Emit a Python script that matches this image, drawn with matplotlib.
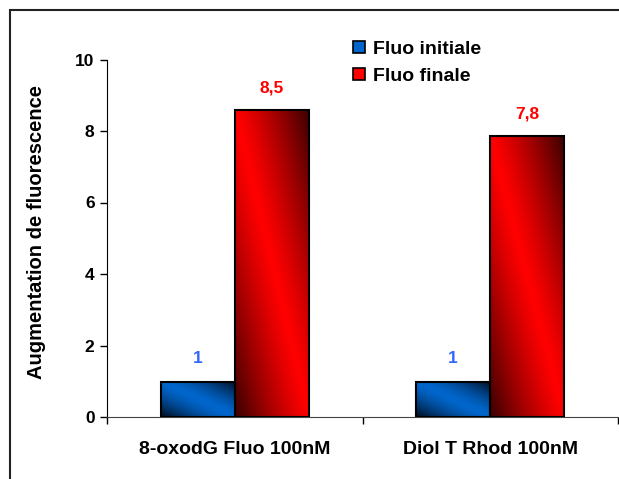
import numpy as np
import matplotlib
matplotlib.use("Agg")
import matplotlib.pyplot as plt
from matplotlib.patches import Rectangle
from matplotlib.lines import Line2D

plt.rcParams['font.family'] = ['Liberation Sans', 'DejaVu Sans']
plt.rcParams['font.weight'] = 'bold'

# données
categories = ['8-oxodG Fluo 100nM', 'Diol T Rhod 100nM']
fluo_initiale = [0.98, 0.98]
fluo_finale = [8.58, 7.85]
labels_initiale = ['1', '1']
labels_finale = ['8,5', '7,8']
series_names = ['Fluo initiale', 'Fluo finale']

W, H = 619, 479
fig = plt.figure(figsize=(W / 100, H / 100), dpi=100)

# cadre autour du graphique
fig.patches.append(Rectangle((10 / W, -0.1), 1.2, (H - 10) / H + 0.1,
                             transform=fig.transFigure, fill=False,
                             edgecolor='#222222', linewidth=1.5))

ax = fig.add_axes([107 / W, 62 / H, 511 / W, 357.5 / H])

x = np.arange(len(categories))
bw = 0.29


def gradient_bar(ax, patch, base, dark, gamma=1.3):
    """dégradé diagonal façon Excel dans une barre"""
    n = 200
    u = np.linspace(0, 1, n)
    v = np.linspace(1, 0, n)
    U, V = np.meshgrid(u, v)
    d = (np.abs(U + V - 1) ** gamma)[..., None]
    img = np.array(base)[None, None, :] * (1 - d) + np.array(dark)[None, None, :] * d
    x0, y0 = patch.get_x(), patch.get_y()
    im = ax.imshow(img, extent=(x0, x0 + patch.get_width(), y0, y0 + patch.get_height()),
                   aspect='auto', zorder=2, interpolation='bilinear')
    im.set_clip_path(patch)


blue = (0.0, 0.40, 0.80)
blue_dark = (0.0, 0.04, 0.10)
red = (1.0, 0.0, 0.0)
red_dark = (0.22, 0.0, 0.0)

b1 = ax.bar(x - bw / 2, fluo_initiale, bw, facecolor='none', edgecolor='black', linewidth=1.5, zorder=3)
b2 = ax.bar(x + bw / 2, fluo_finale, bw, facecolor='none', edgecolor='black', linewidth=1.5, zorder=3)
for p in b1:
    gradient_bar(ax, p, blue, blue_dark, 1.5)
for p in b2:
    gradient_bar(ax, p, red, red_dark, 1.2)

# étiquettes de valeurs
for xi, v, t in zip(x, fluo_initiale, labels_initiale):
    ax.text(xi - bw / 2, v + 0.66, t, ha='center', va='center', color='#3366FF',
            fontsize=12.5, fontweight='bold')
for xi, v, t in zip(x, fluo_finale, labels_finale):
    ax.text(xi + bw / 2, v + 0.62, t, ha='center', va='center', color='#FF0000',
            fontsize=12.5, fontweight='bold')

ax.set_xlim(-0.5, 1.5)
ax.set_ylim(0, 10)
ax.set_yticks([0, 2, 4, 6, 8, 10])
ax.set_xticks(x)
ax.set_xticklabels(categories, fontsize=14, fontweight='bold')
ax.set_xticks([-0.5, 0.5, 1.5], minor=True)
ax.tick_params(axis='x', which='major', length=0, pad=17)
ax.tick_params(axis='x', which='minor', length=5, direction='out', width=1)
ax.tick_params(axis='y', length=5, width=1, pad=4, labelsize=12.5)
for lab in ax.get_yticklabels():
    lab.set_fontweight('bold')

ax.spines['top'].set_visible(False)
ax.spines['right'].set_visible(False)
ax.spines['bottom'].set_color('#444444')
ax.set_ylabel('Augmentation de fluorescence', fontsize=14.5, fontweight='bold')
ax.yaxis.label.set_va('center')
ax.yaxis.set_label_coords((37 - 107) / 511, 0.517)

# légende
handles = [Line2D([], [], marker='s', linestyle='none', markersize=9,
                  markerfacecolor=c, markeredgecolor='black', markeredgewidth=1.2)
           for c in ['#0066CC', '#FF0000']]
leg = fig.legend(handles, series_names, loc='upper left', bbox_to_anchor=(352 / W, 1 - 40 / H),
                 frameon=False, fontsize=14, handlelength=0.7, handletextpad=0.4,
                 labelspacing=0.48, borderaxespad=0, borderpad=0)

fig.savefig('out.png', dpi=100)
